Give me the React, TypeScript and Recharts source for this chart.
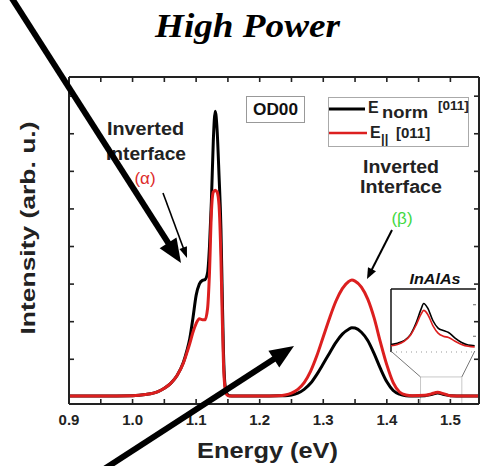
import React from 'react';
import { LineChart, Line, XAxis, YAxis, Legend, ReferenceArea, ReferenceLine } from 'recharts';

// ---------- data ----------
const ENERGY = [
  0.90, 0.95, 1.00, 1.02, 1.04, 1.05, 1.06, 1.07, 1.08, 1.085,
  1.09, 1.095, 1.10, 1.105, 1.11, 1.114, 1.118, 1.121, 1.124, 1.127,
  1.130, 1.133, 1.136, 1.139, 1.141, 1.143, 1.145, 1.148, 1.152, 1.16,
  1.20, 1.23, 1.24, 1.25, 1.26, 1.27, 1.28, 1.29, 1.30, 1.31,
  1.32, 1.33, 1.34, 1.345, 1.35, 1.36, 1.37, 1.38, 1.39, 1.40,
  1.41, 1.42, 1.43, 1.44, 1.46, 1.47, 1.48, 1.49, 1.50, 1.52, 1.545,
];
const E_NORM = [
  0.02, 0.02, 0.03, 0.06, 0.14, 0.23, 0.36, 0.57, 0.92, 1.2,
  1.55, 2.1, 2.7, 3.0, 3.1, 3.12, 3.3, 4.0, 5.2, 6.8,
  7.6, 7.1, 5.9, 4.5, 2.8, 1.2, 0.4, 0.1, 0.03, 0.02,
  0.02, 0.03, 0.03, 0.05, 0.1, 0.2, 0.36, 0.6, 0.88, 1.17,
  1.45, 1.67, 1.8, 1.84, 1.83, 1.72, 1.5, 1.15, 0.75, 0.4,
  0.17, 0.07, 0.03, 0.02, 0.03, 0.06, 0.1, 0.06, 0.03, 0.02, 0.02,
];
const E_PAR = [
  0.02, 0.02, 0.03, 0.06, 0.14, 0.23, 0.36, 0.57, 0.9, 1.15,
  1.42, 1.72, 1.95, 2.08, 2.05, 2.05, 2.35, 3.3, 4.9, 5.45,
  5.5, 5.45, 5.1, 3.7, 2.2, 0.9, 0.3, 0.06, 0.02, 0.02,
  0.02, 0.03, 0.05, 0.1, 0.2, 0.38, 0.68, 1.1, 1.6, 2.1,
  2.55, 2.88, 3.07, 3.11, 3.08, 2.92, 2.6, 2.1, 1.45, 0.85,
  0.38, 0.13, 0.05, 0.03, 0.04, 0.08, 0.12, 0.08, 0.03, 0.02, 0.02,
];
const X_TICKS = [0.9, 0.95, 1.0, 1.05, 1.1, 1.15, 1.2, 1.25, 1.3, 1.35, 1.4, 1.45, 1.5];
const Y_TICKS = [1, 2, 3, 4, 5, 6, 7, 8];
const X_DOMAIN = [0.9, 1.545];
const Y_DOMAIN = [-0.19, 8.51];

// inset (InAlAs region)
const INSET_ENERGY = [1.453, 1.458, 1.463, 1.468, 1.472, 1.476, 1.478, 1.481, 1.485, 1.489, 1.493, 1.497, 1.502, 1.507, 1.512, 1.517];
const INSET_NORM = [0.12, 0.14, 0.18, 0.28, 0.45, 0.68, 0.77, 0.7, 0.5, 0.38, 0.34, 0.31, 0.22, 0.15, 0.11, 0.1];
const INSET_PAR = [0.1, 0.12, 0.17, 0.27, 0.42, 0.6, 0.66, 0.6, 0.42, 0.3, 0.25, 0.23, 0.17, 0.12, 0.09, 0.08];
const INSET_X_DOMAIN = [1.453, 1.518];
const INSET_Y_DOMAIN = [0, 1];
const INSET_Y_TICKS = [0.25, 0.5, 0.75];
// zoom window in main-chart data coords
const ZOOM_BOX = { x1: 1.453, x2: 1.518, y1: -0.19, y2: 0.53 };
const INSET_CORNERS = { left: 1.4063, right: 1.5384, y: 1.22 };

const SERIES = [
  { key: 'norm', name: 'E_norm [011]', color: '#000000' },
  { key: 'par', name: 'E_|| [011]', color: '#dc1f1f' },
];

const MAIN_DATA = ENERGY.map((e, i) => ({ e, norm: E_NORM[i], par: E_PAR[i] }));
const INSET_DATA = INSET_ENERGY.map((e, i) => ({ e, norm: INSET_NORM[i], par: INSET_PAR[i] }));

const SANS = '"Liberation Sans", Arial, Helvetica, sans-serif';
const SERIF = '"Liberation Serif", "Times New Roman", serif';
const AX = '#222';
const TICK_LEN = 5;

const fmt = (v: number) => (Math.abs(Math.round(v * 10) - v * 10) < 1e-6 ? v.toFixed(1) : '');

// custom tick marks drawn inward from the axis line (tickSize=0, tickMargin=0 => x/y is on the axis)
const BottomTick = (p: any) => {
  const label = fmt(p.payload.value);
  return (
    <g>
      <line x1={p.x} y1={p.y} x2={p.x} y2={p.y - TICK_LEN} stroke={AX} strokeWidth={1.6} />
      {label && (
        <text x={p.x} y={p.y + 21} textAnchor="middle" fontFamily={SANS} fontWeight="bold" fontSize={15} fill={AX}>
          {label}
        </text>
      )}
    </g>
  );
};
const TopTick = (p: any) => (
  <line x1={p.x} y1={p.y} x2={p.x} y2={p.y + TICK_LEN} stroke={AX} strokeWidth={1.6} />
);
const LeftTick = (p: any) => (
  <line x1={p.x} y1={p.y} x2={p.x + TICK_LEN} y2={p.y} stroke={AX} strokeWidth={1.6} />
);
const RightTick = (p: any) => (
  <line x1={p.x} y1={p.y} x2={p.x - TICK_LEN} y2={p.y} stroke={AX} strokeWidth={1.6} />
);
const InsetRightTick = (p: any) => (
  <line x1={p.x} y1={p.y} x2={p.x - 3} y2={p.y} stroke="#666" strokeWidth={1} />
);

function Arrow({ x1, y1, x2, y2, w, hl, hw, color = '#000' }: any) {
  const dx = x2 - x1, dy = y2 - y1;
  const L = Math.hypot(dx, dy);
  const ux = dx / L, uy = dy / L;
  const px = -uy, py = ux;
  const bx = x2 - ux * hl, by = y2 - uy * hl;
  const pts = `${x2},${y2} ${bx + px * hw / 2},${by + py * hw / 2} ${bx - px * hw / 2},${by - py * hw / 2}`;
  return (
    <g>
      <line x1={x1} y1={y1} x2={bx + ux * 2} y2={by + uy * 2} stroke={color} strokeWidth={w} />
      <polygon points={pts} fill={color} />
    </g>
  );
}

const LegendContent = (props: any) => {
  const payload = props.payload || [];
  const c0 = payload[0]?.color ?? SERIES[0].color;
  const c1 = payload[1]?.color ?? SERIES[1].color;
  return (
    <svg width={141} height={50} style={{ display: 'block', overflow: 'visible' }}>
      <rect x={0.5} y={0.5} width={140} height={49} fill="#fff" stroke="#aaa" strokeWidth={1} />
      <line x1={1} y1={12} x2={37} y2={12} stroke={c0} strokeWidth={3} />
      <text fontFamily={SANS} fontWeight="bold" fill="#222">
        <tspan x={40} y={16} fontSize={16}>E</tspan>
        <tspan x={54} y={21} fontSize={16} textLength={46} lengthAdjust="spacingAndGlyphs">norm</tspan>
        <tspan x={110} y={13} fontSize={13.5}>[011]</tspan>
      </text>
      <line x1={1} y1={36} x2={39} y2={36} stroke={c1} strokeWidth={2.5} />
      <text fontFamily={SANS} fontWeight="bold" fill="#222">
        <tspan x={42} y={41} fontSize={16}>E</tspan>
        <tspan x={53} y={46} fontSize={13}>||</tspan>
        <tspan x={68} y={41} fontSize={15}>[011]</tspan>
      </text>
    </svg>
  );
};

export default function App() {
  return (
    <div style={{ position: 'absolute', left: 0, top: 0, width: 481, height: 466, background: '#fff', overflow: 'hidden' }}>
      <LineChart width={481} height={466} data={MAIN_DATA} margin={{ top: 67, right: 0, bottom: 32, left: 59 }}>
        <XAxis
          xAxisId="b" dataKey="e" type="number" domain={X_DOMAIN} ticks={X_TICKS} interval={0}
          orientation="bottom" height={30} tickSize={0} tickMargin={0} tickLine={false} tick={BottomTick}
          axisLine={{ stroke: AX, strokeWidth: 2 }} allowDataOverflow
        />
        <XAxis
          xAxisId="t" dataKey="e" type="number" domain={X_DOMAIN} ticks={X_TICKS} interval={0}
          orientation="top" height={10} tickSize={0} tickMargin={0} tickLine={false} tick={TopTick}
          axisLine={{ stroke: AX, strokeWidth: 2 }} allowDataOverflow
        />
        <YAxis
          yAxisId="l" type="number" domain={Y_DOMAIN} ticks={Y_TICKS} interval={0} width={10}
          tickSize={0} tickMargin={0} tickLine={false} tick={LeftTick}
          axisLine={{ stroke: AX, strokeWidth: 2 }} allowDataOverflow
        />
        <YAxis
          yAxisId="r" orientation="right" type="number" domain={Y_DOMAIN} ticks={Y_TICKS} interval={0} width={2}
          tickSize={0} tickMargin={0} tickLine={false} tick={RightTick}
          axisLine={{ stroke: AX, strokeWidth: 2 }} allowDataOverflow
        />
        <ReferenceArea
          xAxisId="b" yAxisId="l" x1={ZOOM_BOX.x1} x2={ZOOM_BOX.x2} y1={ZOOM_BOX.y1} y2={ZOOM_BOX.y2}
          fill="none" fillOpacity={0} stroke="#c8c8c8" strokeWidth={1} ifOverflow="visible"
        />
        <ReferenceLine
          xAxisId="b" yAxisId="l" ifOverflow="visible" stroke="#777" strokeWidth={1}
          segment={[{ x: INSET_CORNERS.left, y: INSET_CORNERS.y }, { x: ZOOM_BOX.x1, y: ZOOM_BOX.y2 }]}
        />
        <ReferenceLine
          xAxisId="b" yAxisId="l" ifOverflow="visible" stroke="#777" strokeWidth={1}
          segment={[{ x: INSET_CORNERS.right, y: INSET_CORNERS.y }, { x: ZOOM_BOX.x2, y: ZOOM_BOX.y2 }]}
        />
        {SERIES.map((s) => (
          <Line
            key={s.key} xAxisId="b" yAxisId="l" dataKey={s.key} name={s.name} type="monotone"
            stroke={s.color} strokeWidth={3} dot={false} activeDot={false} isAnimationActive={false}
          />
        ))}
        <Legend
          layout="vertical" align="center" verticalAlign="middle" content={LegendContent}
          wrapperStyle={{ left: 328, top: 97, width: 141, height: 50 }}
        />
      </LineChart>

      {/* inset */}
      <div style={{ position: 'absolute', left: 389, top: 287, width: 91, height: 67 }}>
        <LineChart width={91} height={67} data={INSET_DATA} margin={{ top: 2, right: 2, bottom: 2, left: 2 }}>
          <XAxis dataKey="e" type="number" domain={INSET_X_DOMAIN} hide allowDataOverflow />
          <YAxis type="number" domain={INSET_Y_DOMAIN} hide allowDataOverflow />
          <YAxis
            yAxisId="ir" orientation="right" type="number" domain={INSET_Y_DOMAIN} ticks={INSET_Y_TICKS}
            width={2} tickSize={0} tickMargin={0} tickLine={false} tick={InsetRightTick} axisLine={false} allowDataOverflow
          />
          <ReferenceLine y={INSET_Y_DOMAIN[1]} stroke="#111" strokeWidth={1.5} ifOverflow="visible" />
          <ReferenceLine x={INSET_X_DOMAIN[0]} stroke="#111" strokeWidth={1.5} ifOverflow="visible" />
          <ReferenceLine y={INSET_Y_DOMAIN[0]} stroke="#999" strokeWidth={1} strokeDasharray="1 4" ifOverflow="visible" />
          {SERIES.map((s) => (
            <Line
              key={s.key} dataKey={s.key} type="monotone" stroke={s.color} strokeWidth={1.6}
              dot={false} activeDot={false} isAnimationActive={false}
            />
          ))}
        </LineChart>
      </div>

      {/* annotations */}
      <svg width={481} height={466} style={{ position: 'absolute', left: 0, top: 0, pointerEvents: 'none' }}>
        <text x={247.5} y={37} textAnchor="middle" fontFamily={SERIF} fontWeight="bold" fontStyle="italic"
          fontSize={33} textLength={185} lengthAdjust="spacingAndGlyphs" fill="#000">High Power</text>

        <text transform="translate(35,228) rotate(-90)" textAnchor="middle" fontFamily={SANS} fontWeight="bold"
          fontSize={20} textLength={213} lengthAdjust="spacingAndGlyphs" fill="#222">Intensity (arb. u.)</text>
        <text x={267.5} y={458} textAnchor="middle" fontFamily={SANS} fontWeight="bold"
          fontSize={22} textLength={141} lengthAdjust="spacingAndGlyphs" fill="#222">Energy (eV)</text>

        {/* OD00 box */}
        <rect x={246.5} y={96.5} width={58} height={26} fill="#fff" stroke="#999" strokeWidth={1} />
        <text x={275.5} y={115} textAnchor="middle" fontFamily={SANS} fontWeight="bold" fontSize={17}
          textLength={45} lengthAdjust="spacingAndGlyphs" fill="#111">OD00</text>

        {/* alpha annotation */}
        <text x={145.5} y={135} textAnchor="middle" fontFamily={SANS} fontWeight="bold" fontSize={18}
          textLength={77} lengthAdjust="spacingAndGlyphs" fill="#222">Inverted</text>
        <text x={146} y={160} textAnchor="middle" fontFamily={SANS} fontWeight="bold" fontSize={18}
          textLength={80} lengthAdjust="spacingAndGlyphs" fill="#222">Interface</text>
        <text x={145} y={184} textAnchor="middle" fontFamily={SANS} fontSize={17} fill="#dd2a2a">(α)</text>
        <Arrow x1={163} y1={193} x2={187} y2={258} w={1.6} hl={11} hw={8} />

        {/* beta annotation */}
        <text x={401} y={173} textAnchor="middle" fontFamily={SANS} fontWeight="bold" fontSize={18}
          textLength={76} lengthAdjust="spacingAndGlyphs" fill="#222">Inverted</text>
        <text x={401} y={193} textAnchor="middle" fontFamily={SANS} fontWeight="bold" fontSize={18}
          textLength={82} lengthAdjust="spacingAndGlyphs" fill="#222">Interface</text>
        <text x={402} y={224} textAnchor="middle" fontFamily={SANS} fontSize={17} fill="#3fd83f">(β)</text>
        <Arrow x1={392} y1={230} x2={367} y2={279} w={2} hl={11} hw={9} />

        {/* InAlAs inset title */}
        <text x={435} y={284} textAnchor="middle" fontFamily={SANS} fontWeight="bold" fontStyle="italic" fontSize={14}
          textLength={51} lengthAdjust="spacingAndGlyphs" fill="#111">InAlAs</text>

        {/* big arrows */}
        <Arrow x1={4} y1={-14} x2={181} y2={263} w={6} hl={24} hw={20} />
        <Arrow x1={95} y1={475} x2={294} y2={346} w={6} hl={24} hw={20} />
      </svg>
    </div>
  );
}
